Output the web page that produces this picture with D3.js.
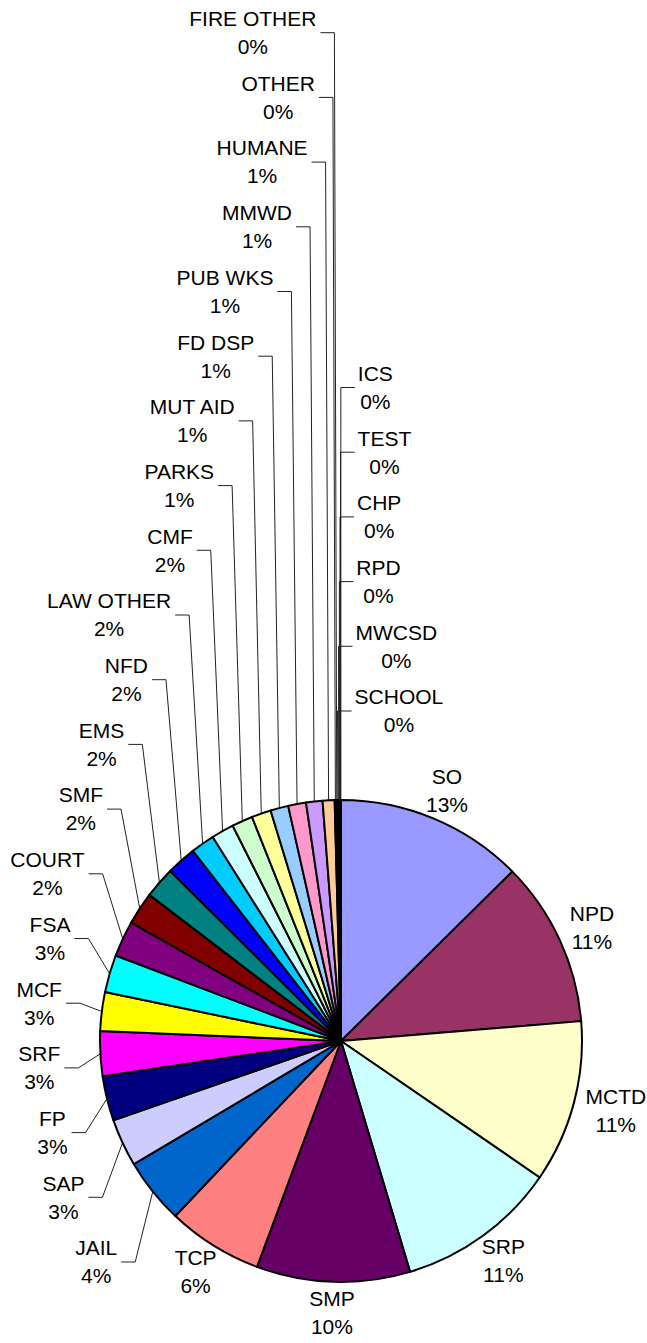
<!DOCTYPE html>
<html>
<head>
<meta charset="utf-8">
<script src="https://cdn.jsdelivr.net/npm/d3@7"></script>
<style>
  body { margin: 0; background: #fff; }
  svg { display: block; }
</style>
</head>
<body>
<div id="chart"></div>
<script>
// categories, clockwise from 12 o'clock
var agencies = ["SO", "NPD", "MCTD", "SRP", "SMP", "TCP", "JAIL", "SAP", "FP", "SRF",
    "MCF", "FSA", "COURT", "SMF", "EMS", "NFD", "LAW OTHER", "CMF", "PARKS", "MUT AID",
    "FD DSP", "PUB WKS", "MMWD", "HUMANE", "OTHER", "FIRE OTHER", "SCHOOL", "MWCSD",
    "RPD", "CHP", "TEST", "ICS"];
// counts
var counts = [630, 555, 545, 540, 515, 320, 220, 160, 150, 150,
    130, 126, 120, 110, 105, 100, 80, 76, 70, 65,
    60, 60, 55, 40, 5, 4, 3, 3,
    2, 2, 1, 1];
var colors = ["#9999FF", "#993366", "#FFFFCC", "#CCFFFF", "#660066", "#FF8080", "#0066CC", "#CCCCFF",
    "#000080", "#FF00FF", "#FFFF00", "#00FFFF", "#800080", "#800000", "#008080", "#0000FF",
    "#00CCFF", "#CCFFFF", "#CCFFCC", "#FFFF99", "#99CCFF", "#FF99CC", "#CC99FF", "#FFCC99",
    "#3366FF", "#33CCCC", "#99CC00", "#FFCC00", "#FF9900", "#FF6600", "#666699", "#969696"];

var width = 647, height = 1343;
var cx = 341, cy = 1041, radius = 241;
var nBig = 6, nLeft = 20;          // labels placed around the pie / stacked left / stacked right
var step = 64.7;

var svg = d3.select("#chart")
    .append("svg")
    .attr("width", width)
    .attr("height", height)
    .style("font-family", "'Liberation Sans', Arial, sans-serif")
    .style("font-size", "21px");

svg.append("rect").attr("width", width).attr("height", height).attr("fill", "#fff");

var total = d3.sum(counts);
var pie = d3.pie().sort(null).value(function (d) { return d; });
var arcs = pie(counts);
var arc = d3.arc().innerRadius(0).outerRadius(radius);

function mid(d) { return (d.startAngle + d.endAngle) / 2; }
function px(a, r) { return cx + r * Math.sin(a); }
function py(a, r) { return cy - r * Math.cos(a); }

var leaders = svg.append("g")
    .attr("fill", "none")
    .attr("stroke", "#222")
    .attr("stroke-width", 1);

var g = svg.append("g").attr("transform", "translate(" + cx + "," + cy + ")");

//Slices
g.selectAll("path")
    .data(arcs)
    .enter()
    .append("path")
    .attr("d", arc)
    .attr("fill", function (d, i) { return colors[i]; })
    .attr("stroke", "#000")
    .attr("stroke-width", 2)
    .attr("stroke-linejoin", "round");

//Labels
var labels = svg.append("g");

function addLabel(i, x, y) {
    var t = labels.append("text")
        .attr("text-anchor", "middle")
        .attr("fill", "#000");
    t.append("tspan").attr("x", x).attr("y", y).attr("dy", "0.35em").text(agencies[i]);
    t.append("tspan").attr("x", x).attr("y", y + 28).attr("dy", "0.35em")
        .text(Math.round(counts[i] / total * 100) + "%");
    return t;
}
function moveX(t, x) { t.selectAll("tspan").attr("x", x); }
function moveY(t, y) {
    t.select("tspan:nth-child(1)").attr("y", y);
    t.select("tspan:nth-child(2)").attr("y", y + 28);
}

arcs.forEach(function (d, i) {
    var a = mid(d);
    var ux = Math.sin(a), uy = -Math.cos(a);
    if (i < nBig) {
        // outside end: push the label box out from the rim
        var t = addLabel(i, 0, 0);
        var bb = t.node().getBBox();
        var gap = 9;
        var x = px(a, radius) + gap * ux + (bb.width / 2 + 4) * ux;
        var y = py(a, radius) + gap * uy + (bb.height / 2 - 4) * uy;
        moveX(t, x);
        moveY(t, y - 14);
    } else if (i < nBig + nLeft) {
        var ly = cy + 207 - (i - nBig) * step;
        var ex = px(a, radius + 20) - 2;
        var t2 = addLabel(i, 0, ly);
        moveX(t2, ex - 18 - t2.node().getBBox().width / 2);
        leaders.append("path")
            .attr("d", d3.line()([[ex - 14, ly + 14], [ex, ly + 14], [px(a, radius), py(a, radius)]]));
    } else {
        var ry = cy - 344 - (i - nBig - nLeft) * step;
        var rx = px(a, radius + 20);
        var t3 = addLabel(i, 0, ry);
        moveX(t3, rx + 17 + t3.node().getBBox().width / 2);
        leaders.append("path")
            .attr("d", d3.line()([[rx + 14, ry + 14], [rx, ry + 14], [px(a, radius), py(a, radius)]]));
    }
});
</script>
</body>
</html>
